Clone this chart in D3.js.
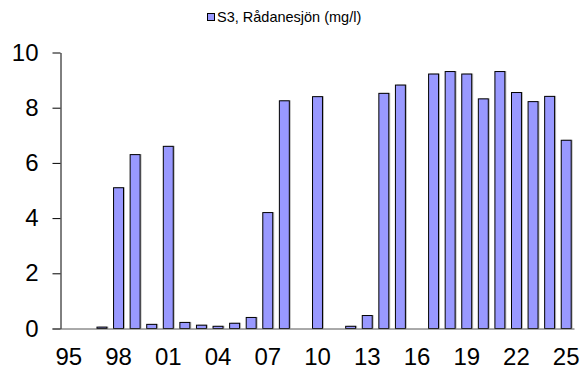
<!DOCTYPE html>
<html><head><meta charset="utf-8">
<script src="https://cdn.jsdelivr.net/npm/d3@7"></script>
<style>body{margin:0;background:#fff}svg{display:block}text{font-family:Arial,"Liberation Sans",sans-serif}</style>
</head><body>
<svg id="c" width="584" height="374"></svg>
<script>
const years = d3.range(1995, 2026).map(String);
const values = [null, null, 0.05, 5.1, 6.3, 0.15, 6.6, 0.22, 0.12, 0.08, 0.19, 0.4, 4.2, 8.25, null, 8.4, null, 0.08, 0.47, 8.52, 8.82, null, 9.22, 9.31, 9.22, 8.32, 9.31, 8.55, 8.22, 8.41, 6.82];
const yTicks = [0, 2, 4, 6, 8, 10];
const xTickYears = ["1995","1998","2001","2004","2007","2010","2013","2016","2019","2022","2025"];
const seriesName = "S3, Rådanesjön (mg/l)";

const svg = d3.select("#c");
const x = d3.scaleBand().domain(years).range([60.5, 574.5]).paddingInner(0.4).paddingOuter(0.2);
const y = d3.scaleLinear().domain([0, 10]).range([328.5, 52.5]);

const data = years.map((yr, i) => ({yr, v: values[i]})).filter(d => d.v != null);

// shadow
svg.append("g").selectAll("rect").data(data).join("rect")
  .attr("x", d => x(d.yr) + 1.5).attr("y", d => y(d.v) - 0.5)
  .attr("width", x.bandwidth()).attr("height", d => y(0) - y(d.v) + 0.5)
  .attr("fill", "#bbbbbb");
svg.append("g").selectAll("rect").data(data).join("rect")
  .attr("x", d => x(d.yr)).attr("y", d => y(d.v))
  .attr("width", x.bandwidth()).attr("height", d => y(0) - y(d.v))
  .attr("fill", "#9999ff").attr("stroke", "#000").attr("stroke-width", 1);

// y axis
const ya = svg.append("g").attr("transform", "translate(60.5,0)")
  .call(d3.axisLeft(y).tickValues(yTicks).tickSize(8).tickSizeOuter(0).tickPadding(14));
ya.select(".domain").attr("stroke", "#000");
ya.selectAll("text").attr("font-size", 24).attr("fill", "#000").attr("font-family", "Arial, 'Liberation Sans', sans-serif");

// x axis
const xa = svg.append("g").attr("transform", "translate(0,328.5)")
  .call(d3.axisBottom(x).tickValues(xTickYears).tickSize(0).tickFormat(d => d.slice(2)).tickPadding(19));
xa.select(".domain").attr("stroke", "#555").attr("d", "M52.5,0.5H574.5");
xa.selectAll("text").attr("font-size", 24).attr("fill", "#000").attr("font-family", "Arial, 'Liberation Sans', sans-serif");

// legend
const lg = svg.append("g");
lg.append("rect").attr("x", 207.5).attr("y", 13.5).attr("width", 7).attr("height", 7)
  .attr("fill", "#9999ff").attr("stroke", "#000").attr("stroke-width", 1);
lg.append("text").attr("x", 217).attr("y", 22).attr("font-size", 14.5).attr("fill", "#000").text(seriesName);
</script>
</body></html>
